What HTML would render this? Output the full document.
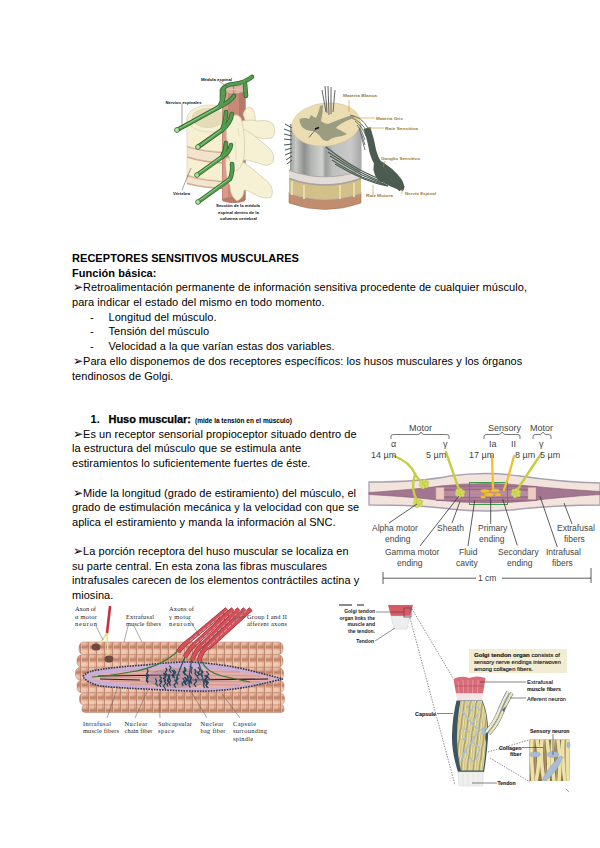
<!DOCTYPE html>
<html><head><meta charset="utf-8">
<style>
html,body{margin:0;padding:0;background:#fff;}
body{width:600px;height:848px;position:relative;overflow:hidden;font-family:"Liberation Sans",sans-serif;color:#000;}
.l{position:absolute;white-space:nowrap;font-size:11px;line-height:14px;letter-spacing:0.05px;}
.b{font-weight:bold;}
svg{position:absolute;left:0;top:0;}
svg{font-family:"Liberation Sans",sans-serif;}
</style></head><body>
<svg width="600" height="848" viewBox="0 0 600 848">
<g id="fig1">
<!-- vertebral bodies -->
<g stroke="#d6caa4" stroke-width="0.6">
  <!-- disc 2 -->
  <path d="M187,175 Q205,181 232,181 L232,188 Q205,188 187,183 Z" fill="#f2e6cc"/>
  <path d="M187,175.5 Q205,181.5 232,181.5 M187,183.5 Q205,188.5 232,188.5" stroke="#d8a898" stroke-width="1.5" fill="none"/>
  <!-- body 2 -->
  <path d="M187,157 Q205,163 232,163 L232,181 Q205,181 187,175 Z" fill="#f6efd0"/>
  <!-- disc 1 -->
  <path d="M187,146 Q205,152 232,152 L232,163 Q205,163 187,157 Z" fill="#f2e4cc"/>
  <path d="M187,146.5 Q205,152.5 232,152.5 M187,157 Q205,163 232,163" stroke="#d8a898" stroke-width="1.6" fill="none"/>
  <!-- body 1 side -->
  <path d="M187,118 L187,146 Q205,152 232,152 L232,118 Z" fill="#f6efd0"/>
  <!-- body 1 top ring -->
  <ellipse cx="210" cy="118.5" rx="23" ry="13.5" fill="#f6f0d6"/>
  <ellipse cx="208" cy="118" rx="16" ry="9.5" fill="#e6dbb8" stroke="#d8cca8"/>
</g>
<!-- spinal cord -->
<rect x="222" y="88" width="23.5" height="112" fill="#c98878"/>
<rect x="223" y="88" width="5" height="112" fill="#d89c8c"/>
<rect x="239" y="88" width="6.5" height="112" fill="#b67868"/>
<ellipse cx="233.7" cy="200" rx="11.7" ry="3" fill="#b87a6a"/>
<!-- cord top -->
<ellipse cx="233.7" cy="89" rx="11.7" ry="5" fill="#dcb4a2" stroke="#b88070" stroke-width="0.6"/>
<path d="M233.5,85 L234,95" stroke="#a87060" stroke-width="0.8"/><path d="M226,89 L241,90" stroke="#e8ccc0" stroke-width="0.8"/>
<!-- processes -->
<g fill="#f6f1d4" stroke="#d2c7a2" stroke-width="0.7">
  <path d="M243,114 Q247,104 253,109 Q257,118 254,127 Q247,128 243,114 Z"/>
  <path d="M234,124 Q246,118 258,121 Q268,119 273,124 Q277,132 272,138 Q264,140 256,137 Q246,139 236,140 Z"/>
  <path d="M228,128 Q242,126 252,134 Q262,142 268,147 Q276,154 273,162 Q268,168 258,163 Q248,159 240,160 Q230,158 228,148 Z"/>
  <path d="M226,158 Q240,158 250,167 Q260,175 268,182 Q275,190 271,197 Q264,200 254,194 Q248,190 244,190 Q244,198 237,201 Q230,196 230,186 Q225,176 226,158 Z"/>
  <path d="M226,122 Q234,110 241,118 Q246,136 244,158 Q240,174 232,170 Q226,150 226,122 Z"/>
</g>
<path d="M235,140 Q237,150 236,160 M238,128 L239,136" stroke="#ddd2b0" stroke-width="0.6" fill="none"/>
<!-- nerves -->
<g fill="none" stroke-linecap="round" stroke-linejoin="round">
  <g stroke="#2e6a2c" stroke-width="4.6">
    <path d="M177,130 L219,107 Q224,100 224,91"/>
    <path d="M219,107 Q230,102 234,96"/>
    <path d="M198,147 L222,130 Q226,120 226,112"/>
    <path d="M222,130 Q230,124 232,114"/>
    <path d="M197,175 L222,157 Q226,150 226,143"/>
    <path d="M222,157 Q230,152 231,145"/>
    <path d="M198,202 L230,179 Q233,172 232,164"/>
    <path d="M222,102 L222,90 Q226,84 234,84 Q244,83 252,77"/>
    <path d="M245,84 L246,96"/>
  </g>
  <g stroke="#559c50" stroke-width="3">
    <path d="M177,130 L219,107 Q224,100 224,91"/>
    <path d="M219,107 Q230,102 234,96"/>
    <path d="M198,147 L222,130 Q226,120 226,112"/>
    <path d="M222,130 Q230,124 232,114"/>
    <path d="M197,175 L222,157 Q226,150 226,143"/>
    <path d="M222,157 Q230,152 231,145"/>
    <path d="M198,202 L230,179 Q233,172 232,164"/>
    <path d="M222,102 L222,90 Q226,84 234,84 Q244,83 252,77"/>
    <path d="M245,84 L246,96"/>
  </g>
  <g stroke="#a2d294" stroke-width="0.9">
    <path d="M180,128 L218,107"/>
    <path d="M201,145 L221,130"/>
    <path d="M199,173 L221,157"/>
    <path d="M200,200 L229,179"/>
  </g>
  <g fill="#b6dca8" stroke="#2c6a2a" stroke-width="0.7">
    <circle cx="177" cy="130" r="2.5"/><circle cx="198" cy="147" r="2.4"/><circle cx="197" cy="175" r="2.4"/><circle cx="198" cy="202" r="2.4"/>
  </g>
</g>
<!-- labels -->
<g fill="#111" font-size="4.4" font-weight="bold">
  <text x="201" y="80.5" textLength="31" lengthAdjust="spacingAndGlyphs">Médula espinal</text>
  <text x="165.5" y="103.5" textLength="36" lengthAdjust="spacingAndGlyphs">Nervios espinales</text>
  <text x="173" y="195" textLength="17" lengthAdjust="spacingAndGlyphs">Vértebra</text>
  <text x="216" y="207" textLength="44" lengthAdjust="spacingAndGlyphs">Sección de la médula</text>
  <text x="218" y="213.5" textLength="41" lengthAdjust="spacingAndGlyphs">espinal dentro de la</text>
  <text x="220" y="220" textLength="37" lengthAdjust="spacingAndGlyphs">columna vertebral</text>
</g>
<g stroke="#444" stroke-width="0.5" fill="none">
  <path d="M182,104 L182,127"/><path d="M219,81 L227,87"/><path d="M182,190 Q186,180 191,168"/>
</g>
</g>
<g id="fig1b">
<defs>
  <linearGradient id="colg" x1="0" y1="0" x2="1" y2="0">
    <stop offset="0" stop-color="#9a9c9a"/><stop offset="0.08" stop-color="#c8cac8"/><stop offset="0.2" stop-color="#8e908e"/><stop offset="0.3" stop-color="#b4b6b4"/><stop offset="0.45" stop-color="#d0d2d0"/><stop offset="0.5" stop-color="#9a9c9a"/><stop offset="0.6" stop-color="#bebfbe"/><stop offset="0.85" stop-color="#c8c9c8"/><stop offset="1" stop-color="#a4a5a4"/>
  </linearGradient>
</defs>
<!-- bottom bands -->
<path d="M289,192 L361,192 L361,203 Q325,216 289,203 Z" fill="#c08e6e" stroke="#a87a5c" stroke-width="0.6"/>
<path d="M289,193 Q325,205 361,193" fill="none" stroke="#b4b4b4" stroke-width="1.8"/>
<path d="M289,178 L361,178 L361,193 Q325,205 289,193 Z" fill="#d2c088"/>
<path d="M292,181 L292,195 M304,185 L304,199 M340,185 L340,199 M354,183 L354,197" stroke="#e6dcae" stroke-width="2"/>
<path d="M289,170 L361,170 L361,178 Q325,191 289,178 Z" fill="#e2dbd6"/>
<path d="M289,178.5 Q325,191.5 361,178.5" fill="none" stroke="#a4a4a0" stroke-width="1.6"/>
<path d="M289,170 Q325,183 361,170" fill="none" stroke="#aaaaa6" stroke-width="1.4"/>
<!-- column -->
<path d="M290,124 L361.5,124 L361.5,170 Q325,183 290,170 Z" fill="url(#colg)"/>
<!-- top surface -->
<ellipse cx="326" cy="124.5" rx="34.5" ry="21.5" fill="#ecdcb2" stroke="#cdbf94" stroke-width="0.5" transform="rotate(-6 326 124.5)"/>
<!-- gray matter -->
<path d="M299.5,119 Q305,117 309,119 L311,115 Q314,117 316,118 Q319,112 320,106 L323,105 Q323,113 321,121 Q324,124 328,124 Q338,120 346,117 Q351,115 356,116 Q352,119 346,121 Q338,125 336,128 Q342,131 347,134 Q342,137 336,137 Q331,138 328,141 Q322,141 320,136 Q317,133 314,131 Q308,131 305,129 Q300,127 299.5,119 Z" fill="#9c9d80"/>
<path d="M306,126 Q302,124 300,121" stroke="#9c9d80" stroke-width="2" fill="none"/>
<path d="M315,129 L319,127.5" stroke="#111" stroke-width="1.6"/>
<path d="M309,137.5 L316,129" stroke="#222" stroke-width="0.6"/>
<!-- rootlets top -->
<g stroke="#666" stroke-width="1" fill="none">
<path d="M327,113 L325,86"/><path d="M329,115 L328,86"/><path d="M331,114 L331,87"/><path d="M326,112 L322,90"/><path d="M333,112 L335,90"/>
</g>
<!-- left rootlets -->
<g stroke="#46544c" stroke-width="1" fill="none">
<path d="M292,128 L285,124"/><path d="M292,132 L284,129"/><path d="M292,136 L284,134"/><path d="M292,140 L284,139"/><path d="M292,144 L284,145"/><path d="M292,148 L285,150"/><path d="M292,152 L285,155"/><path d="M292,156 L286,160"/><path d="M292,160 L287,164"/>
</g>
<!-- nerve fibers & ganglion -->
<g fill="none" stroke="#5e6c62" stroke-width="0.9">
<path d="M350,115 Q362,117 368,128"/><path d="M352,118 Q362,122 367,132"/><path d="M355,121 Q362,126 366,136"/><path d="M357,125 Q362,130 365,140"/><path d="M359,129 Q362,135 365,145"/><path d="M361,134 Q362,140 365,150"/>
</g>
<path d="M367,128 Q371,140 373,152 Q377,166 388,176 Q398,184 402,189" fill="none" stroke="#4c5c50" stroke-width="7"/>
<path d="M376,158 Q394,168 402,180 Q406,188 403,191 Q392,188 378,180 Q370,170 376,158 Z" fill="#4c5c50"/>
<g fill="none" stroke="#4c5c50" stroke-width="1.3">
<path d="M326,147 Q342,160 360,170 Q372,176 382,180"/>
<path d="M328,152 Q344,163 360,172 Q372,178 382,182"/>
<path d="M330,156 Q346,166 362,175 Q374,180 384,184"/>
<path d="M332,160 Q348,170 362,177 Q374,182 386,185"/>
<path d="M335,164 Q350,173 364,179 Q376,184 388,186"/>
</g>
<!-- labels -->
<g fill="#9a7a38" font-size="4.2" font-weight="bold">
  <text x="343" y="97" textLength="34" lengthAdjust="spacingAndGlyphs">Materia Blanca</text>
  <text x="376" y="120" textLength="27" lengthAdjust="spacingAndGlyphs">Materia Gris</text>
  <text x="385" y="130" textLength="33" lengthAdjust="spacingAndGlyphs">Raíz Sensitiva</text>
  <text x="381" y="160" textLength="39" lengthAdjust="spacingAndGlyphs">Ganglio Sensitivo</text>
  <text x="405" y="195" textLength="31" lengthAdjust="spacingAndGlyphs">Nervio Espinal</text>
  <text x="366" y="197" textLength="27" lengthAdjust="spacingAndGlyphs">Raíz Motora</text>
</g>
<g stroke="#c8922e" stroke-width="0.6" fill="none">
  <path d="M349,100 L349,112"/><path d="M352,118 L375,118"/><path d="M368,128 L384,128"/><path d="M385,161 L383,167"/><path d="M402,189 L402,194"/><path d="M373,185 L373,195"/>
</g>
</g>
<g id="fig2">
<!-- outer band -->
<path d="M369,482 Q420,482 450,476 Q486,471 520,476 Q560,482 600,483 L600,505 Q560,505 520,509 Q486,513 450,509 Q420,505 369,505 Z" fill="#f3e3dd" stroke="#a8a0b0" stroke-width="1.3"/>
<!-- intrafusal lens -->
<path d="M369,492.5 Q420,489 440,486 Q486,481 530,486 Q560,489 600,491.5 L600,494.5 Q560,497 530,501 Q486,505 440,500.5 Q420,497.5 369,494.5 Z" fill="#a27690" stroke="#8a5c74" stroke-width="0.6"/>
<rect x="436" y="486" width="101" height="15" fill="#9a6a84"/>
<path d="M444,491 Q490,489 528,491 L528,496 Q490,498 444,496 Z" fill="#b88aa2"/>
<!-- capsule ends -->
<rect x="436" y="487.5" width="8" height="12" fill="#ebccc0" stroke="#c8a8a8" stroke-width="0.5"/>
<rect x="528" y="487.5" width="8" height="12" fill="#ebccc0" stroke="#c8a8a8" stroke-width="0.5"/>
<path d="M444,488 L528,488 M444,499 L528,499" stroke="#c09aac" stroke-width="0.8"/>
<!-- green box -->
<rect x="469.5" y="482.5" width="38" height="22" fill="none" stroke="#3d9a4a" stroke-width="1"/>
<!-- yellow nerves -->
<g fill="none" stroke="#c6cc44" stroke-width="2.4" stroke-linecap="round">
  <path d="M394,456 Q410,462 415,474 Q418,480 424,483"/>
  <path d="M415,474 Q410,490 418,502"/>
  <path d="M446,452 Q452,470 460,492"/>
  <path d="M541,454 Q530,470 516,492"/>
</g>
<g fill="none" stroke="#f0c030" stroke-width="2.3" stroke-linecap="round">
  <path d="M492,456 L493,488"/>
  <path d="M514,456 Q510,472 504,490"/>
</g>
<g fill="#d6de62" stroke="#b4bc3a" stroke-width="0.4">
<circle cx="421.5" cy="482" r="1.9"/>
<circle cx="424.5" cy="481.2" r="1.9"/>
<circle cx="427" cy="483" r="1.9"/>
<circle cx="421" cy="485" r="1.9"/>
<circle cx="424" cy="484.5" r="1.9"/>
<circle cx="426.5" cy="486" r="1.9"/>
<circle cx="423" cy="487" r="1.9"/>
<circle cx="425.8" cy="483.5" r="1.9"/>
<circle cx="415.5" cy="501" r="1.9"/>
<circle cx="418.5" cy="500.2" r="1.9"/>
<circle cx="421" cy="502" r="1.9"/>
<circle cx="415" cy="504" r="1.9"/>
<circle cx="418" cy="503.5" r="1.9"/>
<circle cx="420.5" cy="505" r="1.9"/>
<circle cx="417" cy="506" r="1.9"/>
<circle cx="419.8" cy="502.5" r="1.9"/>
<circle cx="457.5" cy="491" r="1.9"/>
<circle cx="460.5" cy="490.2" r="1.9"/>
<circle cx="463" cy="492" r="1.9"/>
<circle cx="457" cy="494" r="1.9"/>
<circle cx="460" cy="493.5" r="1.9"/>
<circle cx="462.5" cy="495" r="1.9"/>
<circle cx="459" cy="496" r="1.9"/>
<circle cx="461.8" cy="492.5" r="1.9"/>
<circle cx="513.5" cy="491" r="1.9"/>
<circle cx="516.5" cy="490.2" r="1.9"/>
<circle cx="519" cy="492" r="1.9"/>
<circle cx="513" cy="494" r="1.9"/>
<circle cx="516" cy="493.5" r="1.9"/>
<circle cx="518.5" cy="495" r="1.9"/>
<circle cx="515" cy="496" r="1.9"/>
<circle cx="517.8" cy="492.5" r="1.9"/>
</g>
<g fill="#f0c030" stroke="#d8a020" stroke-width="0.3"><ellipse cx="485" cy="491" rx="4.5" ry="1.8"/><ellipse cx="495" cy="490.5" rx="4.5" ry="1.8"/><ellipse cx="489" cy="494.5" rx="5" ry="1.8"/><ellipse cx="498" cy="494.5" rx="3" ry="1.6"/><ellipse cx="483" cy="497" rx="2.5" ry="1.4"/></g>
<!-- brace -->
<path d="M391,439 L391,436 Q391,434.5 394,434.5 L418,434.5 Q420,434.5 421,432 Q422,434.5 424,434.5 L446,434.5 Q449,434.5 449,436 L449,439" fill="none" stroke="#555" stroke-width="0.8"/>
<path d="M484,439 L484,436 Q484,434.5 487,434.5 L499,434.5 Q501,434 502,432 Q503,434 505,434.5 L517,434.5 Q520,434.5 520,436 L520,439" fill="none" stroke="#555" stroke-width="0.8"/>
<path d="M533,439 L533,436 Q533,434.5 536,434.5 L540,434.5 Q542,434 543,432 Q544,434 546,434.5 L548,434.5 Q551,434.5 551,436 L551,439" fill="none" stroke="#555" stroke-width="0.8"/>
<!-- labels -->
<g fill="#444" font-size="9">
  <text x="409" y="431">Motor</text>
  <text x="488" y="431">Sensory</text>
  <text x="530" y="431">Motor</text>
  <text x="391" y="447" font-size="9">α</text>
  <text x="443" y="447" font-size="9">γ</text>
  <text x="489" y="447" font-size="9">Ia</text>
  <text x="511" y="447" font-size="9">II</text>
  <text x="539" y="447" font-size="9">γ</text>
  <text x="371" y="458" font-size="9">14 µm</text>
  <text x="426" y="458" font-size="9">5 µm</text>
  <text x="469" y="458" font-size="9">17 µm</text>
  <text x="515" y="458" font-size="9">8 µm</text>
  <text x="540" y="458" font-size="9">5 µm</text>
  <text x="372" y="531" font-size="8.5">Alpha motor</text>
  <text x="385" y="542" font-size="8.5">ending</text>
  <text x="437" y="531" font-size="8.5">Sheath</text>
  <text x="478" y="531" font-size="8.5">Primary</text>
  <text x="479" y="542" font-size="8.5">ending</text>
  <text x="557" y="531" font-size="8.5">Extrafusal</text>
  <text x="564" y="542" font-size="8.5">fibers</text>
  <text x="385" y="555" font-size="8.5">Gamma motor</text>
  <text x="397" y="566" font-size="8.5">ending</text>
  <text x="459" y="555" font-size="8.5">Fluid</text>
  <text x="456" y="566" font-size="8.5">cavity</text>
  <text x="498" y="555" font-size="8.5">Secondary</text>
  <text x="507" y="566" font-size="8.5">ending</text>
  <text x="546" y="555" font-size="8.5">Intrafusal</text>
  <text x="552" y="566" font-size="8.5">fibers</text>
  <text x="478" y="581" font-size="8.5">1 cm</text>
</g>
<g stroke="#333" stroke-width="0.8" fill="none">
  <path d="M389,523 L417,504"/><path d="M420,546 L459,496"/><path d="M452,523 L460,501.5"/>
  <path d="M468,546 L474.7,500.5"/><path d="M490.7,524 L490.7,498"/><path d="M517.3,545.5 L502.7,499"/>
  <path d="M557.3,547 L540,496.3"/><path d="M572,524 L564,503"/>
  <path d="M383,578.2 L476,578.2 M502,578.2 L591,578.2 M383,572 L383,584 M591,568 L591,583"/>
</g>
</g>
<g id="fig3">
<defs>
  <linearGradient id="cyl" x1="0" y1="0" x2="0" y2="1">
    <stop offset="0" stop-color="#c88c72"/><stop offset="0.25" stop-color="#ecc0a6"/><stop offset="0.6" stop-color="#e2aa8e"/><stop offset="1" stop-color="#b87c62"/>
  </linearGradient>
  <linearGradient id="segh" x1="0" y1="0" x2="1" y2="0">
    <stop offset="0" stop-color="#b87c64" stop-opacity="0.8"/><stop offset="0.2" stop-color="#fff" stop-opacity="0"/><stop offset="0.5" stop-color="#fff" stop-opacity="0.28"/><stop offset="0.8" stop-color="#fff" stop-opacity="0"/><stop offset="1" stop-color="#b87c64" stop-opacity="0.5"/>
  </linearGradient>
  <pattern id="seg" x="0" y="0" width="8" height="12.7" patternUnits="userSpaceOnUse">
    <rect width="8" height="12.7" fill="url(#cyl)"/>
    <rect x="2" y="1.5" width="4" height="9" rx="1.5" fill="#f8dccc" opacity="0.45"/>
    <path d="M0.4,0 L0.4,12.7" stroke="#b47860" stroke-width="0.9"/><path d="M1.4,0 L1.4,12.7" stroke="#f2d0bc" stroke-width="0.6"/>
  </pattern>
</defs>
<!-- muscle rows -->
<g stroke="#b07a62" stroke-width="0.5">
  <rect x="79" y="642" width="204" height="12.7" rx="5" fill="url(#seg)"/>
  <rect x="77" y="654.7" width="206" height="12.7" rx="5" fill="url(#seg)"/>
  <rect x="75.5" y="667.4" width="208" height="12.7" rx="5" fill="url(#seg)"/>
  <rect x="77" y="680.1" width="207" height="12.7" rx="5" fill="url(#seg)"/>
  <rect x="79.5" y="692.8" width="205" height="12.4" rx="5" fill="url(#seg)"/>
  <rect x="82" y="705" width="202" height="7.5" rx="3" fill="url(#seg)"/>
</g>
<!-- spindle capsule -->
<path d="M83,676 Q88,671 100,669.5 Q120,666.5 145,665 Q170,662 190,662 Q225,664 250,670.5 Q272,676 283,679 Q270,682 250,686.5 Q220,692 190,691 Q160,690 145,689 Q120,688 100,686 Q88,683 83,677 Z" fill="#c9aed6" stroke="#34344a" stroke-width="1.6" stroke-dasharray="1.6 1.1"/>
<path d="M92,677 Q110,672 145,669.5 Q185,666 230,671 Q262,675 276,679 Q262,682 230,687 Q185,690 145,686 Q110,683 92,679 Z" fill="#e6b0a8"/>
<g stroke="#c08080" stroke-width="0.6">
  <path d="M100,677 L270,679"/><path d="M110,674 L260,676"/><path d="M110,681 L260,682"/><path d="M130,671 L240,672"/><path d="M130,684 L240,685"/>
</g>
<g stroke="#222" stroke-width="1.1"><path d="M98,676 L180,675"/><path d="M100,679 L140,680"/><path d="M190,680 L268,679"/></g>
<!-- nuclei -->
<ellipse cx="178" cy="678" rx="32" ry="10" fill="#8a7a9a" opacity="0.4"/>
<g stroke="#24445e" stroke-width="1.2" fill="none">
<path d="M184.6,676.9 l2.2,2.9 l-1.4,2.9 l1.0,2.5"/>
<path d="M204.5,675.4 l2.4,2.1 l-1.8,2.2 l1.8,2.6"/>
<path d="M146.8,668.5 l1.4,2.9 l-1.4,2.2 l2.2,2.1"/>
<path d="M184.3,667.0 l1.0,2.9 l-2.2,2.2 l2.5,2.9"/>
<path d="M163.9,680.4 l1.8,2.7 l-2.2,2.9 l2.0,3.0"/>
<path d="M201.4,669.8 l1.5,2.2 l-2.3,2.1 l1.5,2.6"/>
<path d="M146.2,675.8 l1.5,2.3 l-1.3,2.5 l1.5,2.5"/>
<path d="M189.7,665.9 l2.5,2.0 l-1.4,2.8 l1.0,2.8"/>
<path d="M168.7,674.3 l1.0,2.0 l-2.2,3.0 l1.3,2.8"/>
<path d="M203.6,680.1 l1.5,2.4 l-1.7,2.8 l1.2,2.7"/>
<path d="M195.4,678.8 l1.1,2.9 l-2.4,2.3 l1.9,2.9"/>
<path d="M167.1,679.8 l1.8,2.3 l-2.0,2.2 l1.1,2.1"/>
<path d="M188.7,680.9 l1.2,2.0 l-1.0,2.5 l1.6,2.2"/>
<path d="M182.8,678.2 l1.7,2.4 l-2.4,2.9 l1.0,2.5"/>
<path d="M198.0,667.1 l2.1,2.9 l-1.6,2.8 l1.2,2.4"/>
<path d="M155.3,678.5 l1.4,2.5 l-1.0,2.9 l2.5,2.5"/>
<path d="M176.3,676.7 l1.7,2.3 l-1.9,2.1 l1.6,3.0"/>
<path d="M205.5,675.0 l1.7,2.3 l-2.4,2.3 l2.2,2.9"/>
<path d="M168.4,677.6 l2.2,2.7 l-1.5,2.8 l1.5,2.7"/>
<path d="M163.4,672.8 l2.2,2.7 l-2.1,2.9 l2.0,2.6"/>
<path d="M146.7,673.8 l1.4,2.7 l-1.8,2.8 l2.0,2.8"/>
<path d="M167.6,675.3 l2.1,2.8 l-2.0,2.8 l2.3,2.7"/>
<path d="M206.5,680.3 l1.8,2.5 l-2.3,2.8 l2.4,2.5"/>
<path d="M188.9,676.5 l2.1,2.2 l-1.3,2.6 l2.0,2.4"/>
<path d="M184.7,677.4 l2.0,2.7 l-2.5,2.2 l1.7,2.7"/>
<path d="M159.6,676.0 l1.9,2.0 l-1.8,2.2 l1.1,2.1"/>
<path d="M165.7,667.9 l1.3,2.0 l-1.8,2.4 l1.9,2.6"/>
<path d="M160.7,679.5 l1.0,2.4 l-2.1,2.4 l1.2,2.8"/>
<path d="M169.2,665.6 l1.9,2.1 l-1.7,2.3 l1.9,3.0"/>
<path d="M196.7,671.7 l2.2,2.6 l-1.9,2.1 l1.9,2.6"/>
<path d="M205.3,680.5 l1.9,2.4 l-1.2,2.0 l1.2,2.6"/>
<path d="M184.1,667.3 l1.9,2.9 l-1.9,2.4 l1.3,2.3"/>
<path d="M206.3,671.1 l2.4,2.9 l-1.6,2.3 l2.5,2.5"/>
<path d="M171.8,670.1 l2.5,2.5 l-2.1,2.5 l1.2,2.6"/>
<path d="M173.5,669.7 l2.2,2.8 l-2.5,2.5 l1.4,2.9"/>
<path d="M194.5,668.9 l1.4,2.2 l-1.0,2.3 l1.9,2.5"/>
<path d="M186.0,674.7 l2.1,2.1 l-1.4,2.3 l1.8,2.3"/>
<path d="M164.4,673.5 l1.7,2.4 l-1.4,2.6 l1.1,2.3"/>
<path d="M174.2,679.7 l2.3,2.5 l-2.5,2.8 l1.6,2.6"/>
<path d="M189.9,675.1 l1.7,2.9 l-1.9,2.4 l2.3,2.2"/>
</g>
<!-- nerve fibers into spindle -->
<g fill="none" stroke-width="1.2">
  <path d="M179,650 Q160,668 130,672 Q110,676 92,677" stroke="#3a7a34"/>
  <path d="M186,655 Q180,668 176,680" stroke="#2a5070"/>
  <path d="M192,657 Q190,670 188,684" stroke="#2a5070"/>
  <path d="M198,660 Q202,672 204,684" stroke="#2a5070"/>
  <path d="M201,660 Q206,672 222,676 Q240,680 250,682" stroke="#3a7a34"/>
</g>
<!-- red axons -->
<g fill="none" stroke-linecap="butt">
  <g stroke="#9a3038" stroke-width="4.6">
    <path d="M178,652 Q184,644 190,640 L227,609"/><path d="M185,657 Q190,648 196,643 L233,609"/><path d="M192,660 Q196,650 202,645 L239,609"/><path d="M199,661 Q201,652 208,646 L245,609"/><path d="M208,648 L251,609"/>
  </g>
  <g stroke="#d4505a" stroke-width="3.4">
    <path d="M178,652 Q184,644 190,640 L227,609"/><path d="M185,657 Q190,648 196,643 L233,609"/><path d="M192,660 Q196,650 202,645 L239,609"/><path d="M199,661 Q201,652 208,646 L245,609"/><path d="M208,648 L251,609"/>
  </g>
  <g stroke="#f4e0e0" stroke-width="0.6" stroke-dasharray="4 1.5">
    <path d="M190,641 L229,609"/><path d="M196,644 L235,610"/><path d="M202,646 L241,610"/><path d="M208,647 L247,610"/>
  </g>
</g>
<!-- alpha axon -->
<path d="M110,607 L107,633" stroke="#c8303e" stroke-width="2.6" stroke-linecap="round"/>
<path d="M107,633 L99,645 M107,633 L108,656" stroke="#e6dc88" stroke-width="1.4"/>
<ellipse cx="96" cy="647" rx="4.5" ry="3.5" fill="#6e4a3e"/>
<ellipse cx="109" cy="659" rx="4.5" ry="3.5" fill="#6e4a3e"/>
<!-- labels -->
<g fill="#222" style="font-family:'Liberation Serif',serif" font-size="6.4">
  <text x="75" y="611" textLength="21">Axon of</text><text x="75" y="618.5" textLength="22">α motor</text><text x="75" y="626" textLength="22">neuron</text>
  <text x="126" y="618.5" textLength="28">Extrafusal</text><text x="126" y="626" textLength="35">muscle fibers</text>
  <text x="169" y="611" textLength="25">Axons of</text><text x="169" y="618.5" textLength="22">γ motor</text><text x="169" y="626" textLength="25">neurons</text>
  <text x="247" y="618.5" textLength="40">Group I and II</text><text x="247" y="626" textLength="40">afferent axons</text>
  <text x="83" y="725.5" textLength="28">Intrafusal</text><text x="83" y="733" textLength="36">muscle fibers</text>
  <text x="124.5" y="725.5" textLength="23">Nuclear</text><text x="124.5" y="733" textLength="28">chain fiber</text>
  <text x="158" y="725.5" textLength="34">Subcapsular</text><text x="158" y="733" textLength="16">space</text>
  <text x="200.5" y="725.5" textLength="23">Nuclear</text><text x="200.5" y="733" textLength="25">bag fiber</text>
  <text x="233" y="725.5" textLength="23">Capsule</text><text x="233" y="733" textLength="34">surrounding</text><text x="233" y="740.5" textLength="20">spindle</text>
</g>
<g stroke="#555" stroke-width="0.5" fill="none">
  <path d="M96,626 L103,640"/><path d="M128,626 L124,642 M134,626 L142,642"/><path d="M188,618 L200,636"/><path d="M246,616 L230,620"/>
  <path d="M107,718 L118,686"/><path d="M135,718 L148,690"/><path d="M160,718 L159,692"/><path d="M207,718 L190,690"/><path d="M240,718 L222,694"/>
</g>
</g>
<g id="fig4">
<defs>
  <linearGradient id="redm" x1="0" y1="0" x2="0" y2="1">
    <stop offset="0" stop-color="#d86068"/><stop offset="0.7" stop-color="#e08a90"/><stop offset="1" stop-color="#f2d2d4"/>
  </linearGradient>
  <pattern id="coll" x="0" y="0" width="6" height="14" patternUnits="userSpaceOnUse" patternTransform="rotate(8)">
    <rect width="6" height="14" fill="#c4b676"/>
    <path d="M1,0 L2,14 M3.6,0 L4.4,14" stroke="#efe6b4" stroke-width="1.3"/>
    <path d="M5.4,0 L5.4,14" stroke="#857848" stroke-width="0.5"/>
  </pattern>
  <pattern id="coll2" x="0" y="0" width="7" height="20" patternUnits="userSpaceOnUse">
    <rect width="7" height="20" fill="#c8b878"/>
    <path d="M1.5,0 L2,20 M4.5,0 L5,20" stroke="#f0e4b0" stroke-width="1.6"/>
  </pattern>
</defs>
<!-- tiny text top -->
<path d="M339,605 L352,605 M357,605 L364,605" stroke="#666" stroke-width="1.4"/>
<!-- icon -->
<path d="M388,605 L413,605 L410,616 L391,616 Z" fill="#d85a64"/>
<path d="M391,616 L410,616 L407,629 L394,629 Z" fill="#eeeeee" stroke="#ccc" stroke-width="0.5"/>
<rect x="404" y="608" width="7" height="9" fill="none" stroke="#7a3a4a" stroke-width="0.8"/>
<!-- labels icon -->
<g fill="#222" font-size="5" font-weight="bold" text-anchor="end">
  <text x="375" y="613">Golgi tendon</text><text x="375" y="619.5">organ links the</text><text x="375" y="626">muscle and</text><text x="375" y="632.5">the tendon.</text>
  <text x="374" y="643">Tendon</text>
</g>
<g stroke="#444" stroke-width="0.6" fill="none">
  <path d="M376,612 L403,612"/><path d="M375,641 L395,628"/>
</g>
<!-- dashed leaders -->
<g stroke="#444" stroke-width="0.6" fill="none" stroke-dasharray="1.5 1.2">
  <path d="M412,609 L453,678"/><path d="M410,618 L455,785"/>
  <path d="M488,752 L529,740"/><path d="M490,758 L530,782"/>
</g>
<!-- box -->
<rect x="469" y="649" width="98" height="24" fill="#f2ecd2"/>
<g fill="#111" stroke="#111" stroke-width="0.12" font-size="5.2">
  <text x="474" y="656.5" textLength="86" lengthAdjust="spacingAndGlyphs"><tspan font-weight="bold">Golgi tendon organ</tspan> consists of</text>
  <text x="474" y="663.5" textLength="87" lengthAdjust="spacingAndGlyphs">sensory nerve endings interwoven</text>
  <text x="474" y="670.5" textLength="59" lengthAdjust="spacingAndGlyphs">among collagen fibers.</text>
</g>
<!-- muscle top -->
<path d="M453.5,679 Q461,675 469,678 Q477,675 485.5,678 L483,693.5 L456,693.5 Z" fill="#d86c78"/>
<g stroke="#eaa0a8" stroke-width="0.8"><path d="M458,681 L459,693 M463,680 L463.5,693 M468,680 L468,693 M473,680 L472.5,693 M478,680 L477.5,693"/></g>
<path d="M455,686 L484,686" stroke="#b84858" stroke-width="0.6"/>
<path d="M456,693.5 L483,693.5 L482,700.5 L457,700.5 Z" fill="#f4e4e8"/>
<!-- capsule -->
<path d="M456.5,700.5 L482.5,700.5 Q489,716 488,738 Q486.5,758 484,772 L458,772 Q451.5,752 452,735 Q452.5,716 456.5,700.5 Z" fill="#3e5660"/>
<path d="M460.5,701 L482,701 Q487.8,716 487,730 Q484,736 486,742 Q485.5,756 483,770.5 L461,770.5 Q456.5,752 457,735 Q457.5,716 460.5,701 Z" fill="url(#coll)"/>
<g stroke="#a8c0d8" stroke-width="1.4" fill="none">
  <path d="M487,731 Q478,731 472,724 L466,716"/><path d="M478,731 L472,742 L465,750"/><path d="M472,742 L480,748"/><path d="M472,724 L478,714"/>
  <path d="M465,750 L461,762"/><path d="M480,748 L476,760"/><path d="M466,716 L462,710"/><path d="M470,712 L474,706"/>
  <path d="M463,728 L469,732"/><path d="M476,706 L481,711"/><path d="M461,740 L467,738"/><path d="M470,757 L474,764"/><path d="M482,722 L477,722"/>
</g>
<g fill="#a6bcd2"><path d="M482,727 L491,731 L482,735 Z"/><circle cx="468" cy="707" r="1.2"/><circle cx="474" cy="737" r="1.2"/><circle cx="466" cy="752" r="1.2"/></g>
<!-- afferent -->
<g fill="none">
<path d="M486,732 Q495,722 499,711 Q504,699 508,692" stroke="#6e7e86" stroke-width="3.6"/>
<path d="M486,732 Q495,722 499,711 Q504,699 508,692" stroke="#f0ead0" stroke-width="2.4"/>
<path d="M489,734 Q498,724 502,713 Q507,701 512,693" stroke="#6e7e86" stroke-width="3.6"/>
<path d="M489,734 Q498,724 502,713 Q507,701 512,693" stroke="#ece4b8" stroke-width="2.4"/>
</g>
<path d="M502,710 L506,706 L504,712 Z" fill="#5a6a72"/>
<!-- tendon bottom -->
<path d="M458,772 L483.5,772 L482.5,786 L459,786 Z" fill="#efefed" stroke="#d4d4d4" stroke-width="0.5"/>
<g stroke="#dadada" stroke-width="0.6"><path d="M463,773 L463,785 M468,773 L468,785 M473,773 L473,785 M478,773 L478,785"/></g>
<!-- inset -->
<rect x="529.5" y="739.5" width="40" height="41.5" fill="#8c7650"/>
<g stroke="#ede2a8" stroke-width="3.6" fill="none">
  <path d="M532,739.5 Q531,760 533,781"/><path d="M537,739.5 Q541,760 536,781"/><path d="M542,739.5 Q540,760 544,781"/>
  <path d="M547,739.5 Q550,760 548,781"/><path d="M553,739.5 Q551,760 554,781"/><path d="M558,739.5 Q561,760 559,781"/>
  <path d="M563,739.5 Q562,760 565,781"/><path d="M568,739.5 Q567,760 568,781"/>
</g>
<g stroke="#c8b47a" stroke-width="0.7" fill="none">
  <path d="M534.5,739.5 Q536,760 534.5,781"/><path d="M544.5,739.5 Q545,760 546,781"/><path d="M555.5,739.5 Q556,760 556.5,781"/><path d="M565.5,739.5 Q564.5,760 566.5,781"/>
</g>
<g fill="#a8bcd8" stroke="#8aa0c0" stroke-width="0.4">
  <ellipse cx="535" cy="754.5" rx="5.5" ry="2.6"/>
  <ellipse cx="553" cy="754.5" rx="6" ry="3"/>
  <path d="M563,757 Q560,764 556,770 Q550,778 545,781 L542,780 Q546,772 551,766 Q556,760 560,756 Z"/>
  <ellipse cx="568.5" cy="745" rx="1.6" ry="3"/>
</g>
<!-- labels -->
<g fill="#1a1a1a" stroke="#1a1a1a" stroke-width="0.1" font-size="5.4" font-weight="bold">
  <text x="527" y="684" textLength="26" lengthAdjust="spacingAndGlyphs" font-weight="normal">Extrafusal</text><text x="527" y="690.5" textLength="34" lengthAdjust="spacingAndGlyphs">muscle fibers</text>
  <text x="527" y="700.5" textLength="39" lengthAdjust="spacingAndGlyphs" font-weight="normal">Afferent neuron</text>
  <text x="530" y="732.5" textLength="39.5" lengthAdjust="spacingAndGlyphs">Sensory neuron</text>
  <text x="499" y="749.5" textLength="22.5" lengthAdjust="spacingAndGlyphs">Collagen</text><text x="510" y="756" textLength="11.5" lengthAdjust="spacingAndGlyphs">fiber</text>
  <text x="415" y="715.5" textLength="21" lengthAdjust="spacingAndGlyphs">Capsule</text>
  <text x="497.5" y="784.5" textLength="18" lengthAdjust="spacingAndGlyphs">Tendon</text>
</g>
<g stroke="#333" stroke-width="0.6" fill="none">
  <path d="M480,682 L526,682"/><path d="M510,698 L526,698"/><path d="M437,713.5 L453,713.5"/><path d="M553,734 L553,755"/><path d="M522,747.5 L543,747.5"/><path d="M472,783 L497,783"/>
</g>
<path d="M566,789 L569,792" stroke="#666" stroke-width="0.6"/>
</g>
</svg>
<div class="l b" style="left:72px;top:251px">RECEPTORES SENSITIVOS MUSCULARES</div>
<div class="l b" style="left:72px;top:266px">Función básica:</div>
<div class="l" style="left:73px;top:280px;letter-spacing:0.05px"><span style="font-size:12px;line-height:0">➢</span>Retroalimentación permanente de información sensitiva procedente de cualquier músculo,</div>
<div class="l" style="left:72px;top:295px">para indicar el estado del mismo en todo momento.</div>
<div class="l" style="left:90px;top:310px">-</div><div class="l" style="left:108.5px;top:310px">Longitud del músculo.</div>
<div class="l" style="left:90px;top:324px">-</div><div class="l" style="left:108.5px;top:324px">Tensión del músculo</div>
<div class="l" style="left:90px;top:339px">-</div><div class="l" style="left:108.5px;top:339px">Velocidad a la que varían estas dos variables.</div>
<div class="l" style="left:73px;top:354px;letter-spacing:0.045px"><span style="font-size:12px;line-height:0">➢</span>Para ello disponemos de dos receptores específicos: los husos musculares y los órganos</div>
<div class="l" style="left:72px;top:369px">tendinosos de Golgi.</div>
<div class="l b" style="left:90.5px;top:412px">1.</div><div class="l b" style="left:108.5px;top:412px;letter-spacing:-0.05px;-webkit-text-stroke:0.25px #000">Huso muscular:</div>
<div class="l b" style="left:195px;top:413.5px;font-size:6.5px;letter-spacing:0">(mide la tensión en el músculo)</div>
<div class="l" style="left:73px;top:427px"><span style="font-size:12px;line-height:0">➢</span>Es un receptor sensorial propioceptor situado dentro de</div>
<div class="l" style="left:72px;top:441px">la estructura del músculo que se estimula ante</div>
<div class="l" style="left:72px;top:456px">estiramientos lo suficientemente fuertes de éste.</div>
<div class="l" style="left:73px;top:486px"><span style="font-size:12px;line-height:0">➢</span>Mide la longitud (grado de estiramiento) del músculo, el</div>
<div class="l" style="left:72px;top:500px">grado de estimulación mecánica y la velocidad con que se</div>
<div class="l" style="left:72px;top:515px">aplica el estiramiento y manda la información al SNC.</div>
<div class="l" style="left:73px;top:544px"><span style="font-size:12px;line-height:0">➢</span>La porción receptora del huso muscular se localiza en</div>
<div class="l" style="left:72px;top:559px">su parte central. En esta zona las fibras musculares</div>
<div class="l" style="left:72px;top:573px">intrafusales carecen de los elementos contráctiles actina y</div>
<div class="l" style="left:72px;top:588px">miosina.</div>
</body></html>
